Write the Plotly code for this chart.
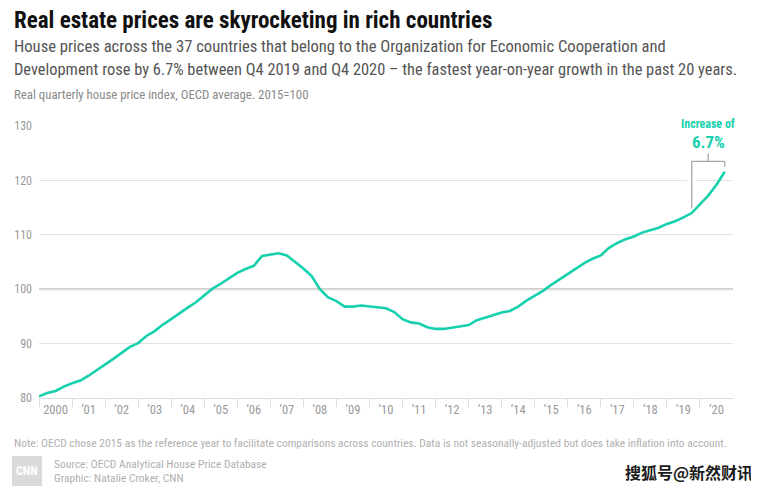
import plotly.graph_objects as go

# ---------------- data ----------------
years = list(range(2000, 2021))
quarters = [1, 2, 3, 4]
house_price_index = [
    80.3, 80.9, 81.3, 82.1,      # 2000
    82.7, 83.2, 84.1, 85.1,      # 2001
    86.1, 87.2, 88.3, 89.4,      # 2002
    90.1, 91.4, 92.3, 93.5,      # 2003
    94.5, 95.6, 96.6, 97.6,      # 2004
    98.9, 100.1, 101.0, 102.0,   # 2005
    103.0, 103.7, 104.3, 106.1,  # 2006
    106.4, 106.6, 106.2, 105.0,  # 2007
    103.8, 102.4, 100.0, 98.5,   # 2008
    97.8, 96.8, 96.8, 97.0,      # 2009
    96.8, 96.7, 96.5, 95.8,      # 2010
    94.5, 93.9, 93.7, 93.0,      # 2011
    92.7, 92.7, 92.9, 93.1,      # 2012
    93.4, 94.3, 94.8, 95.3,      # 2013
    95.7, 96.0, 96.8, 97.9,      # 2014
    98.8, 99.7, 100.8, 101.8,    # 2015
    102.8, 103.8, 104.8, 105.6,  # 2016
    106.2, 107.6, 108.5, 109.2,  # 2017
    109.7, 110.4, 110.8, 111.3,  # 2018
    112.0, 112.5, 113.2, 114.0,  # 2019
    115.6, 117.2, 119.2, 121.6,  # 2020
]
year_labels = ["2000"] + ["\u2019%02d" % (y % 100) for y in years[1:]]
y_ticks = [80, 90, 100, 110, 120, 130]
increase_label = "6.7%"

# time position of each quarter (year + fraction)
t = [y + (q - 1) / 4 for y in years for q in quarters]

TEAL = "#17D0AE"
GREY_TXT = "#9a9a9a"
FONT = "Roboto Condensed, Roboto, sans-serif"

# page offsets: the browser places the figure 8px from the top-left corner
OFF = 8
W, H = 759 - OFF, 492 - OFF
ML, MR, MT, MB = 39 - OFF, 26, 126 - OFF, 94
PW, PH = W - ML - MR, H - MT - MB


def px(x):
    """window pixel x -> paper"""
    return (x - OFF - ML) / PW


def py(y):
    """window pixel y -> paper"""
    return (H - MB - (y - OFF)) / PH


fig = go.Figure()
fig.add_trace(go.Scatter(
    x=t, y=house_price_index, mode="lines",
    line=dict(color=TEAL, width=2.6),
    hoverinfo="skip", showlegend=False,
))

shapes = []
# darker 100 baseline
shapes.append(dict(type="line", xref="paper", yref="y", x0=0, x1=1, y0=100, y1=100,
                   line=dict(color="#bdbdbd", width=2), layer="below"))

# bracket between Q4 2019 and Q4 2020
t0 = t[-5]
t1 = t[-1]
v0 = house_price_index[-5]
v1 = house_price_index[-1]
top = v1 + 1.9
mid = (t0 + t1) / 2
shapes.append(dict(type="line", x0=t0, x1=t0, y0=119.2, y1=120.8,
                   line=dict(color="white", width=8), layer="above"))
for (xa, ya, xb, yb) in [(t0, v0 + 0.85, t0, top), (t0, top, t1, top),
                         (t1, top, t1, v1 + 0.9), (mid, top, mid, top + 1.65)]:
    shapes.append(dict(type="line", x0=xa, x1=xb, y0=ya, y1=yb,
                       line=dict(color="#a8a8a8", width=1.3), layer="above"))

annotations = []
annotations.append(dict(x=mid, y=127.1, xref="x", yref="y", text="<b>" + increase_label + "</b>",
                        showarrow=False, font=dict(family=FONT, size=17, color=TEAL),
                        xanchor="center", yanchor="middle", bgcolor="white"))
annotations.append(dict(x=(mid - 2000) / 21, y=(130.3 - 80) / 50, xref="paper", yref="paper",
                        text="<b>Increase of</b>",
                        showarrow=False, font=dict(family=FONT, size=12, color=TEAL),
                        xanchor="center", yanchor="middle", bgcolor="white",
                        borderpad=2))


def text(x, y, s, size, color, anchor="left", bold=False, family=FONT):
    annotations.append(dict(x=px(x), y=py(y), xref="paper", yref="paper", xanchor=anchor,
                            yanchor="middle", showarrow=False,
                            text=("<b>%s</b>" % s) if bold else s,
                            font=dict(family=family, size=size, color=color)))


# header
text(12, 20, "Real estate prices are skyrocketing in rich countries", 23, "#111111", bold=True)
text(12, 47, "House prices across the 37 countries that belong to the Organization for Economic Cooperation and",
     16.6, "#555555")
text(12, 69, "Development rose by 6.7% between Q4 2019 and Q4 2020 \u2013 the fastest year-on-year growth in the past 20 years.",
     16.4, "#555555")
text(12, 95, "Real quarterly house price index, OECD average. 2015=100", 12.8, "#8a8a8a")
# footer
text(12, 443, "Note: OECD chose 2015 as the reference year to facilitate comparisons across countries. "
              "Data is not seasonally-adjusted but does take inflation into account.", 11.5, "#b0b0b0")
text(52, 464, "Source: OECD Analytical House Price Database", 11.5, "#b0b0b0")
text(52, 478, "Graphic: Natalie Croker, CNN", 11.5, "#b0b0b0")
# CNN logo box
shapes.append(dict(type="rect", xref="paper", yref="paper", x0=px(12), x1=px(42),
                   y0=py(486), y1=py(456), fillcolor="#dadada", line=dict(width=0)))
text(27, 471, "CNN", 12, "white", anchor="center", bold=True)
# watermark
text(755, 472, "搜狐号@新然财讯", 16, "#1a1a1a", anchor="right", bold=True, family="Noto Sans CJK SC")

fig.update_layout(
    width=W, height=H,
    margin=dict(l=ML, r=MR, t=MT, b=MB, pad=0, autoexpand=False),
    paper_bgcolor="white", plot_bgcolor="white",
    shapes=shapes, annotations=annotations,
    xaxis=dict(
        range=[2000, 2021], showgrid=False, zeroline=False, automargin=False,
        tickvals=[y + 0.5 for y in years], ticktext=year_labels, ticks="",
        tickfont=dict(family=FONT, size=12.5, color=GREY_TXT),
        showline=True, linecolor="#dddddd", linewidth=1,
        minor=dict(tickvals=years, ticks="outside", ticklen=8, tickcolor="#dddddd",
                   tickwidth=1, showgrid=False),
        fixedrange=True,
    ),
    yaxis=dict(
        range=[80, 130], tickvals=y_ticks, showgrid=True, gridcolor="#e2e2e2",
        gridwidth=1, zeroline=False, ticks="", ticklabelstandoff=6, automargin=False,
        tickfont=dict(family=FONT, size=12, color=GREY_TXT),
        fixedrange=True,
    ),
)

fig.write_html("out.html")
